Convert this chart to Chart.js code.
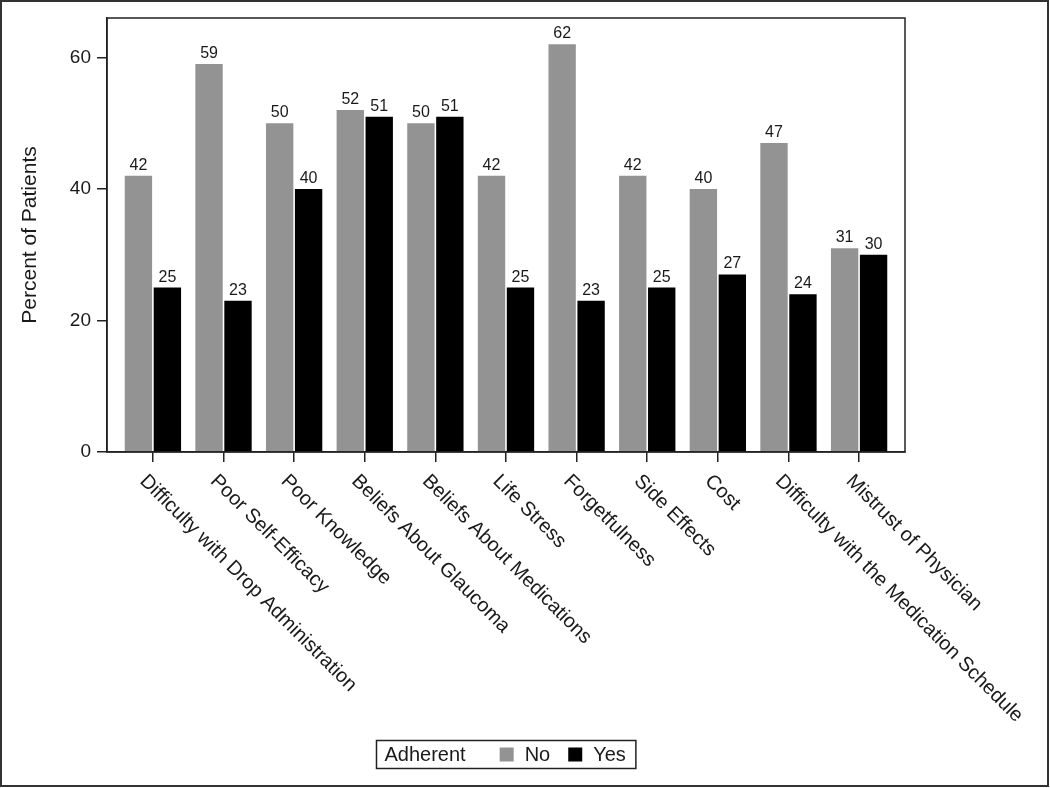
<!DOCTYPE html>
<html>
<head>
<meta charset="utf-8">
<script src="https://cdn.jsdelivr.net/npm/chart.js@4/dist/chart.umd.min.js"></script>
<style>
  html, body { margin: 0; padding: 0; background: #fff; }
  #wrap { width: 1050px; height: 788px; }
</style>
</head>
<body>
<div id="wrap"><canvas id="chart" width="1050" height="788"></canvas></div>
<script>
// data
const categories = [
    'Difficulty with Drop Administration', 'Poor Self-Efficacy', 'Poor Knowledge',
    'Beliefs About Glaucoma', 'Beliefs About Medications', 'Life Stress',
    'Forgetfulness', 'Side Effects', 'Cost',
    'Difficulty with the Medication Schedule', 'Mistrust of Physician'
];
const noValues  = [42, 59, 50, 52, 50, 42, 62, 42, 40, 47, 31];
const yesValues = [25, 23, 40, 51, 51, 25, 23, 25, 27, 24, 30];
const yTicks = [0, 20, 40, 60];
const legendTitle = 'Adherent';

const FONT = 'Arial, "Liberation Sans", sans-serif';
const TXT = '#1a1a1a';
const GREY = '#939393';

function toPoints(vals) {
    return vals.map(function(v, i) { return { x: i, y: v }; });
}

// value labels on top of bars
const barLabels = {
    id: 'barLabels',
    afterDatasetsDraw(chart) {
        const ctx = chart.ctx;
        ctx.save();
        ctx.font = '16px ' + FONT;
        ctx.fillStyle = TXT;
        ctx.textAlign = 'center';
        ctx.textBaseline = 'alphabetic';
        chart.data.datasets.forEach(function(ds, di) {
            chart.getDatasetMeta(di).data.forEach(function(bar, i) {
                ctx.fillText(String(ds.data[i].y), bar.x, bar.y - 6);
            });
        });
        ctx.restore();
    }
};

// frame, rotated x labels, legend box, outer border
const decor = {
    id: 'decor',
    afterDraw(chart) {
        const ctx = chart.ctx;
        const a = chart.chartArea;
        const xs = chart.scales.x;
        ctx.save();

        // plot frame
        ctx.strokeStyle = '#222';
        ctx.lineWidth = 1.5;
        ctx.strokeRect(a.left, a.top, a.right - a.left, a.bottom - a.top);

        // x labels, rotated 45deg clockwise, starting at the tick
        ctx.font = '20px ' + FONT;
        ctx.fillStyle = TXT;
        ctx.textAlign = 'left';
        ctx.textBaseline = 'middle';
        categories.forEach(function(c, i) {
            const px = xs.getPixelForValue(i);
            ctx.save();
            ctx.translate(px - 10, a.bottom + 26);
            ctx.rotate(Math.PI / 4);
            ctx.fillText(c, 0, 0);
            ctx.restore();
        });

        // legend
        ctx.font = '20px ' + FONT;
        const items = chart.data.datasets.map(function(ds) {
            return { label: ds.label, color: ds.backgroundColor };
        });
        const padL = 8, padR = 10, gapTitle = 34, sq = 14, gapSq = 11, gapItem = 18;
        let w = padL + ctx.measureText(legendTitle).width + gapTitle;
        items.forEach(function(it, k) {
            w += sq + gapSq + ctx.measureText(it.label).width;
            if (k < items.length - 1) w += gapItem;
        });
        w += padR;
        const bx = Math.round((a.left + a.right) / 2 - w / 2) + 0.5;
        const by = 740.5, bh = 28;
        ctx.strokeStyle = '#222';
        ctx.lineWidth = 1.5;
        ctx.strokeRect(bx, by, w, bh);
        ctx.textBaseline = 'middle';
        let x = bx + padL;
        const cy = by + bh / 2;
        ctx.fillText(legendTitle, x, cy + 1);
        x += ctx.measureText(legendTitle).width + gapTitle;
        items.forEach(function(it) {
            ctx.fillStyle = it.color;
            ctx.fillRect(x, cy - sq / 2, sq, sq);
            x += sq + gapSq;
            ctx.fillStyle = TXT;
            ctx.fillText(it.label, x, cy + 1);
            x += ctx.measureText(it.label).width + gapItem;
        });

        // outer border
        ctx.strokeStyle = '#333';
        ctx.lineWidth = 2;
        ctx.strokeRect(1, 1, 1047, 785);
        ctx.restore();
    }
};

new Chart(document.getElementById('chart'), {
    type: 'bar',
    data: {
        datasets: [
            { label: 'No',  data: toPoints(noValues),  backgroundColor: GREY },
            { label: 'Yes', data: toPoints(yesValues), backgroundColor: '#000000' }
        ]
    },
    options: {
        responsive: false,
        animation: false,
        events: [],
        categoryPercentage: 0.82,
        barPercentage: 0.945,
        layout: { padding: { left: 0, top: 18, right: 145, bottom: 0 } },
        scales: {
            x: {
                type: 'linear',
                min: -0.65,
                max: 10.65,
                offset: false,
                afterFit(s) { s.height = 336; },
                afterBuildTicks(s) { s.ticks = categories.map(function(c, i) { return { value: i }; }); },
                grid: { offset: false, drawOnChartArea: false, drawTicks: true, tickLength: 10, color: '#222', lineWidth: 1.5 },
                border: { display: true, color: '#222', width: 1.5 },
                ticks: { display: false }
            },
            y: {
                min: 0,
                max: 66,
                afterFit(s) { s.width = 107; },
                afterBuildTicks(s) { s.ticks = yTicks.map(function(v) { return { value: v }; }); },
                grid: { drawOnChartArea: false, drawTicks: true, tickLength: 10, color: '#222', lineWidth: 1.5 },
                border: { display: true, color: '#222', width: 1.5 },
                ticks: { color: TXT, padding: 6, font: { family: FONT, size: 19 } },
                title: {
                    display: true,
                    text: 'Percent of Patients',
                    color: TXT,
                    padding: { top: 18, bottom: 0 },
                    font: { family: FONT, size: 21 }
                }
            }
        },
        plugins: {
            legend: { display: false },
            tooltip: { enabled: false }
        }
    },
    plugins: [barLabels, decor]
});
</script>
</body>
</html>
